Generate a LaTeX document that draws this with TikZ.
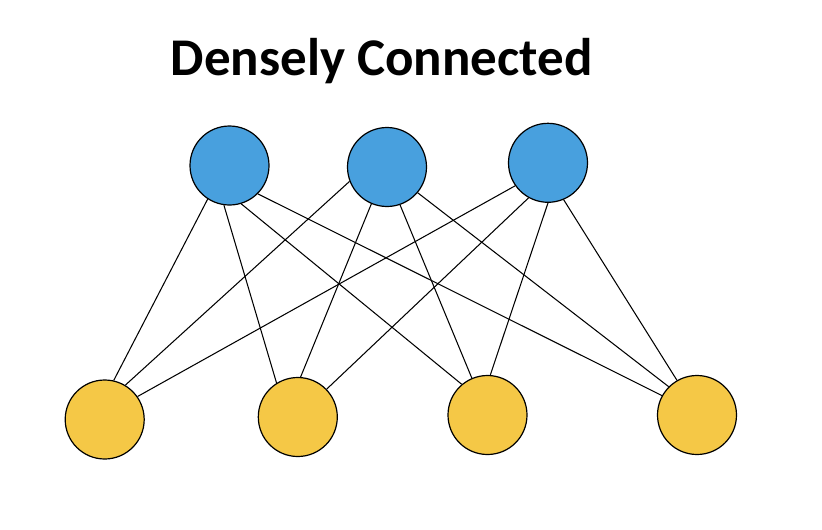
\documentclass[tikz,border=0pt]{standalone}
\usepackage{fontspec}
\setmainfont{Carlito}
\definecolor{nodeblue}{RGB}{72,160,222}
\definecolor{nodeyellow}{RGB}{245,200,70}
\begin{document}
\begin{tikzpicture}[x=1pt,y=-1pt,
  neuron/.style={circle,draw=black,line width=1.2pt,minimum size=79pt,inner sep=0pt},
  bluen/.style={neuron,fill=nodeblue},
  yellown/.style={neuron,fill=nodeyellow},
  link/.style={draw=black,line width=1.05pt}]
\useasboundingbox (0,0) rectangle (822,530);
\node[anchor=base,font=\fontsize{53}{63}\selectfont\bfseries] (title) at (381.7,75.5) {Densely Connected};
\node[bluen] (b1) at (229.5,165.5) {};
\node[bluen] (b2) at (387,167) {};
\node[bluen] (b3) at (548,162.8) {};
\node[yellown] (y1) at (104.7,419.5) {};
\node[yellown] (y2) at (297.8,417) {};
\node[yellown] (y3) at (487.5,415) {};
\node[yellown] (y4) at (697,415) {};
\draw[link] (b1.237.9) -- (y1.77.7);
\draw[link] (b1.262.4) -- (y2.122);
\draw[link] (b1.287.9) -- (y3.130.7);
\draw[link] (b1.315.7) -- (y4.151.7);
\draw[link] (b2.201.7) -- (y1.59.2);
\draw[link] (b2.247.7) -- (y2.86.8);
\draw[link] (b2.289.2) -- (y3.113.7);
\draw[link] (b2.320.7) -- (y4.135);
\draw[link] (b3.215.9) -- (y1.35.3);
\draw[link] (b3.241) -- (y2.44.2);
\draw[link] (b3.270) -- (y3.86.4);
\draw[link] (b3.293.7) -- (y4.120.8);
\end{tikzpicture}
\end{document}
